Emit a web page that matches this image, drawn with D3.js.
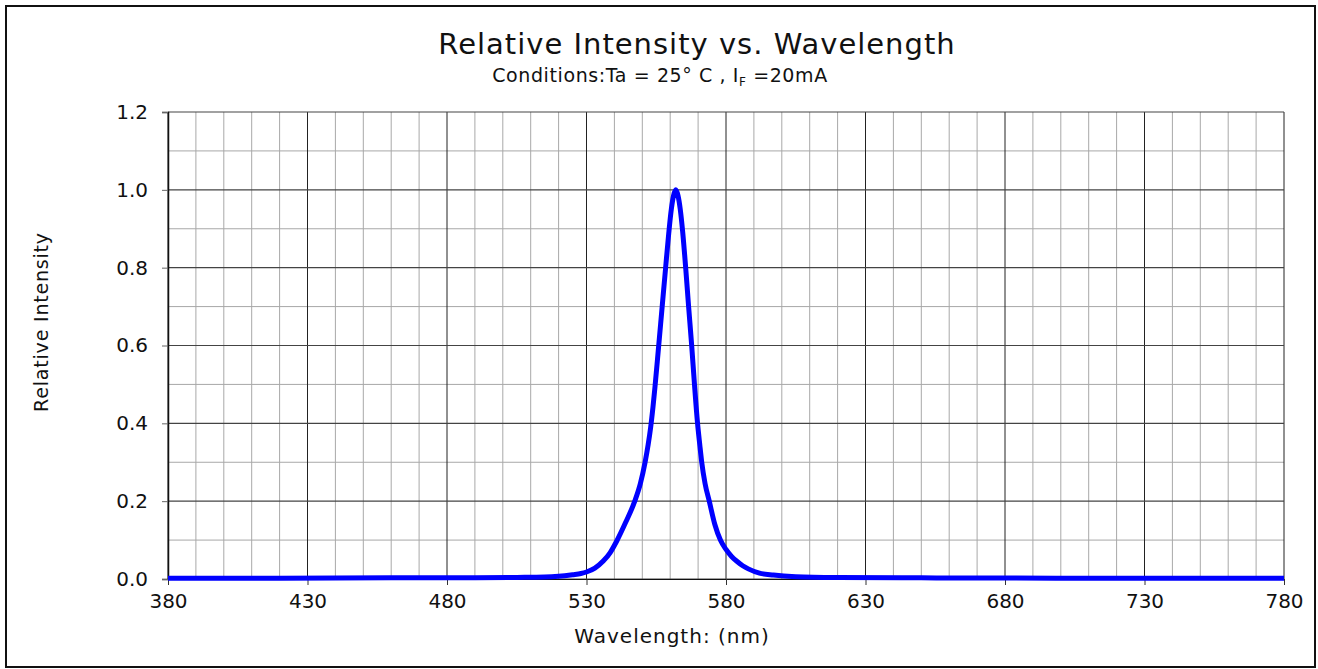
<!DOCTYPE html>
<html>
<head>
    <script src="https://cdnjs.cloudflare.com/ajax/libs/d3/7.8.5/d3.min.js"></script>
    <style>
        body, html {
            margin: 0;
            padding: 0;
            width: 100%;
            height: 100%;
            overflow: hidden;
            background: #fff;
        }
        svg {
            display: block;
            font-family: "DejaVu Sans", sans-serif;
        }
    </style>
</head>
<body>
    <svg></svg>
    <script>
        // values
        const wavelength = [380, 420, 460, 490, 505, 515, 520, 525, 528, 530, 533, 536, 538.5, 540.8, 544,
            547.3, 549.3, 551, 552.1, 553, 553.8, 554.5, 555.7, 557, 558.3, 559.5, 560.4, 561.2, 562,
            562.8, 563.6, 564.5, 565.6, 566.6, 567.7, 568.7, 569.8, 570.6, 571.3, 572.5, 574, 576, 578, 580,
            582, 584, 586, 588, 592, 597, 605, 620, 650, 700, 780];
        const intensity = [0.002, 0.002, 0.003, 0.003, 0.004, 0.005, 0.007, 0.011, 0.014, 0.018, 0.028, 0.046, 0.068, 0.097, 0.145,
            0.2, 0.245, 0.3, 0.345, 0.39, 0.44, 0.49, 0.585, 0.69, 0.795, 0.89, 0.95, 0.985, 1.0,
            0.985, 0.95, 0.89, 0.795, 0.7, 0.6, 0.5, 0.4, 0.345, 0.3, 0.245, 0.2, 0.14, 0.1, 0.076,
            0.058, 0.045, 0.034, 0.026, 0.015, 0.01, 0.006, 0.004, 0.003, 0.002, 0.002];
        const xTicks = [380, 430, 480, 530, 580, 630, 680, 730, 780];
        const yTicks = [0.0, 0.2, 0.4, 0.6, 0.8, 1.0, 1.2];

        const width = 1318;
        const height = 669;
        const margin = {left: 168, right: 1284, top: 112, bottom: 579};

        const svg = d3.select("svg")
            .attr("width", width)
            .attr("height", height);

        // outer frame
        svg.append("rect")
            .attr("x", 6).attr("y", 6)
            .attr("width", 1309).attr("height", 661)
            .attr("fill", "none")
            .attr("stroke", "#111")
            .attr("stroke-width", 2);

        const x = d3.scaleLinear().domain([380, 780]).range([margin.left, margin.right]);
        const y = d3.scaleLinear().domain([0, 1.2]).range([margin.bottom, margin.top]);

        const grid = svg.append("g");

        // minor grid every 10 nm / 0.1
        grid.selectAll(".vminor")
            .data(d3.range(390, 780, 10).filter(v => (v - 380) % 50 !== 0))
            .join("line")
            .attr("x1", d => x(d)).attr("x2", d => x(d))
            .attr("y1", y(0)).attr("y2", y(1.2))
            .attr("stroke", "#a8a8a8").attr("stroke-width", 1);

        grid.selectAll(".hminor")
            .data([0.1, 0.3, 0.5, 0.7, 0.9, 1.1])
            .join("line")
            .attr("x1", x(380)).attr("x2", x(780))
            .attr("y1", d => y(d)).attr("y2", d => y(d))
            .attr("stroke", "#a8a8a8").attr("stroke-width", 1);

        // major grid
        grid.selectAll(".vmajor")
            .data(xTicks)
            .join("line")
            .attr("x1", d => x(d)).attr("x2", d => x(d))
            .attr("y1", y(0)).attr("y2", y(1.2))
            .attr("stroke", "#222").attr("stroke-width", 1);

        grid.selectAll(".hmajor")
            .data(yTicks)
            .join("line")
            .attr("x1", x(380)).attr("x2", x(780))
            .attr("y1", d => y(d)).attr("y2", d => y(d))
            .attr("stroke", "#444").attr("stroke-width", 1.2);

        // axes
        const xAxis = svg.append("g")
            .attr("transform", `translate(0,${y(0)})`)
            .call(d3.axisBottom(x).tickValues(xTicks).tickSize(6).tickPadding(9).tickFormat(d3.format("d")));
        xAxis.select(".domain").attr("stroke", "#111");
        xAxis.selectAll(".tick line").attr("stroke", "#333");
        xAxis.selectAll("text")
            .style("font-size", "20px").style("font-family", "DejaVu Sans").attr("fill", "#111");

        const yAxis = svg.append("g")
            .attr("transform", `translate(${x(380)},0)`)
            .call(d3.axisLeft(y).tickValues(yTicks).tickSize(6).tickPadding(14).tickFormat(d3.format(".1f")));
        yAxis.select(".domain").attr("stroke", "#111").attr("stroke-width", 1.5);
        yAxis.selectAll(".tick line").attr("stroke", "#666");
        yAxis.selectAll("text")
            .style("font-size", "20px").style("font-family", "DejaVu Sans").attr("fill", "#111");

        // spectrum line
        const line = d3.line()
            .x((d, i) => x(wavelength[i]))
            .y(d => y(d))
            .curve(d3.curveMonotoneX);

        svg.append("path")
            .datum(intensity)
            .attr("d", line)
            .attr("fill", "none")
            .attr("stroke", "#0000ff")
            .attr("stroke-width", 5)
            .attr("stroke-linejoin", "round");

        // titles
        svg.append("text")
            .attr("x", 697).attr("y", 54)
            .attr("text-anchor", "middle")
            .attr("font-size", 29)
            .attr("letter-spacing", 1)
            .attr("fill", "#111")
            .text("Relative Intensity vs. Wavelength");

        const sub = svg.append("text")
            .attr("x", 660).attr("y", 82)
            .attr("text-anchor", "middle")
            .attr("font-size", 19)
            .attr("letter-spacing", 0.6)
            .attr("fill", "#111");
        sub.append("tspan").text("Conditions:Ta = 25° C , I");
        sub.append("tspan").attr("font-size", 12).attr("dy", 4).text("F");
        sub.append("tspan").attr("dy", -4).text(" =20mA");

        svg.append("text")
            .attr("x", 672).attr("y", 643)
            .attr("text-anchor", "middle")
            .attr("font-size", 20)
            .attr("letter-spacing", 1)
            .attr("fill", "#111")
            .text("Wavelength: (nm)");

        svg.append("text")
            .attr("transform", `translate(48,322) rotate(-90)`)
            .attr("text-anchor", "middle")
            .attr("font-size", 19)
            .attr("letter-spacing", 0.8)
            .attr("fill", "#111")
            .text("Relative Intensity");
    </script>
</body>
</html>
